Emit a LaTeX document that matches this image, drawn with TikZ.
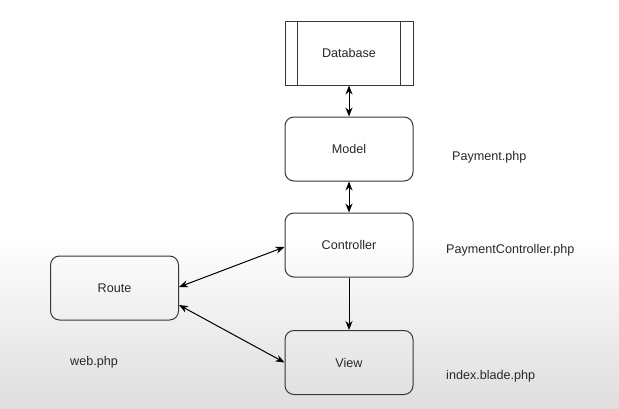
\documentclass[tikz,border=0pt]{standalone}
\usepackage{fontspec}
\setmainfont{Liberation Sans}
\usetikzlibrary{arrows.meta}
\definecolor{boxline}{RGB}{55,55,55}
\definecolor{txt}{RGB}{40,40,40}
\definecolor{bggray}{RGB}{222,222,222}
\begin{document}
\begin{tikzpicture}[x=1pt,y=-1pt,
  box/.style={draw=boxline,line width=1pt,rounded corners=9pt,minimum width=128pt,minimum height=64pt,inner sep=0pt,font=\fontsize{12.6}{14}\selectfont,text=txt},
  dbbox/.style={draw=boxline,line width=1pt,minimum width=128pt,minimum height=64pt,inner sep=0pt,font=\fontsize{12.6}{14}\selectfont,text=txt},
  lbl/.style={anchor=west,inner sep=0pt,font=\fontsize{12.6}{14}\selectfont,text=txt},
  conn/.style={line width=1pt,black},
]
\useasboundingbox (0,0) rectangle (619,408);
\fill[white] (0,0) rectangle (619,235);
\shade[top color=white,bottom color=bggray] (0,235) rectangle (619,408);

\node[dbbox] (db) at (349,53) {Database};
\draw[boxline,line width=1pt] ([xshift=13pt]db.north west) -- ([xshift=13pt]db.south west);
\draw[boxline,line width=1pt] ([xshift=-13pt]db.north east) -- ([xshift=-13pt]db.south east);
\node[box] (model) at (349,149) {Model};
\node[box] (ctrl) at (349,245) {Controller};
\node[box] (view) at (349,362.5) {View};
\node[box] (route) at (114.5,288) {Route};

\node[lbl] (lpay) at (452,157) {Payment.php};
\node[lbl] (lctrl) at (446,250) {PaymentController.php};
\node[lbl] (lview) at (446,376) {index.blade.php};
\node[lbl] (lweb) at (70,362) {web.php};

\draw[conn,{Stealth[length=9pt,width=7pt]}-{Stealth[length=9pt,width=7pt]}] (db.south) -- (model.north);
\draw[conn,{Stealth[length=9pt,width=7pt]}-{Stealth[length=9pt,width=7pt]}] (model.south) -- (ctrl.north);
\draw[conn,-{Stealth[length=9pt,width=7pt]}] (ctrl.south) -- (view.north);
\draw[conn,{Stealth[length=9pt,width=7pt]}-{Stealth[length=9pt,width=7pt]}] ([yshift=1pt]route.east) -- ([yshift=-2pt]ctrl.west);
\draw[conn,{Stealth[length=9pt,width=7pt]}-{Stealth[length=9pt,width=7pt]}] ([yshift=-17pt]route.east) -- (view.west);
\end{tikzpicture}
\end{document}
